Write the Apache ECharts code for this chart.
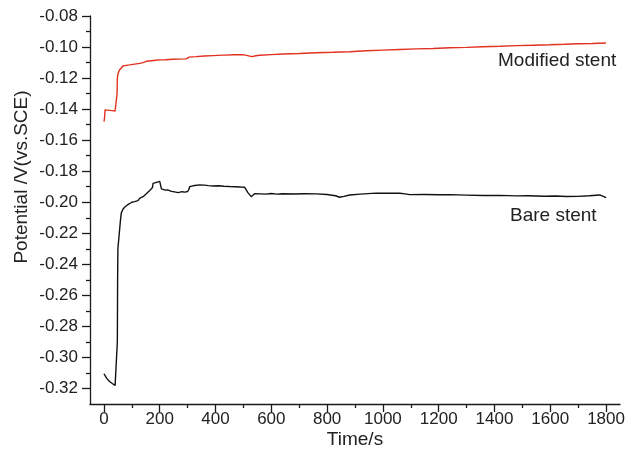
<!DOCTYPE html>
<html>
<head>
<meta charset="utf-8">
<script src="https://cdn.jsdelivr.net/npm/echarts@6/dist/echarts.min.js"></script>
<style>html,body{margin:0;padding:0;background:#fff}#c{width:628px;height:459px}</style>
</head>
<body>
<div id="c"></div>
<script>
// ---- data ----
var timeBare = [0,10,20,30,40,46,48,49,50,53,56,59,62,68,74,80,86,92,100,106,110,116,122,128,134,140,146,152,158,164,170,174,176,182,188,194,200,204,206,212,220,228,235,242,248,253,260,266,271,280,290,300,305,307,315,325,343,360,375,391,410,430,451,470,490,504,510,516,522,528,534,540,546,560,580,600,620,640,680,720,761,800,830,845,860,881,920,960,976,1000,1040,1060,1080,1096,1150,1200,1239,1300,1359,1420,1478,1520,1580,1620,1657,1700,1740,1777,1790,1800];
var valueBare = [-0.3105,-0.3135,-0.3155,-0.3168,-0.3180,-0.3188,-0.2900,-0.2500,-0.2300,-0.2240,-0.2180,-0.2120,-0.2070,-0.2045,-0.2032,-0.2020,-0.2015,-0.2006,-0.2000,-0.1992,-0.1996,-0.1985,-0.1990,-0.1975,-0.1970,-0.1964,-0.1958,-0.1945,-0.1935,-0.1925,-0.1920,-0.1905,-0.1878,-0.1880,-0.1872,-0.1868,-0.1866,-0.1870,-0.1914,-0.1918,-0.1922,-0.1920,-0.1926,-0.1930,-0.1938,-0.1933,-0.1935,-0.1938,-0.1934,-0.1932,-0.1935,-0.1931,-0.1915,-0.1900,-0.1896,-0.1892,-0.1888,-0.1890,-0.1893,-0.1895,-0.1894,-0.1897,-0.1899,-0.1900,-0.1902,-0.1903,-0.1915,-0.1938,-0.1950,-0.1964,-0.1955,-0.1945,-0.1950,-0.1946,-0.1948,-0.1944,-0.1948,-0.1945,-0.1947,-0.1945,-0.1946,-0.1950,-0.1958,-0.1968,-0.1962,-0.1953,-0.1948,-0.1943,-0.1941,-0.1942,-0.1941,-0.1942,-0.1946,-0.1951,-0.1950,-0.1952,-0.1951,-0.1954,-0.1957,-0.1956,-0.1959,-0.1958,-0.1961,-0.1960,-0.1963,-0.1962,-0.1958,-0.1953,-0.1962,-0.1970];
var timeModified = [0,2,4,10,20,30,40,45,47,48,50,55,62,68,80,92,110,128,140,152,170,185,200,220,247,270,295,305,330,360,391,430,470,498,515,530,545,558,600,642,700,760,820,881,940,1000,1060,1120,1180,1240,1300,1358,1420,1480,1540,1598,1650,1700,1750,1800];
var valueModified = [-0.1480,-0.1460,-0.1405,-0.1405,-0.1408,-0.1410,-0.1412,-0.1412,-0.1300,-0.1200,-0.1175,-0.1150,-0.1135,-0.1122,-0.1118,-0.1115,-0.1110,-0.1105,-0.1100,-0.1092,-0.1088,-0.1085,-0.1083,-0.1082,-0.1079,-0.1078,-0.1076,-0.1065,-0.1062,-0.1058,-0.1055,-0.1052,-0.1050,-0.1049,-0.1055,-0.1062,-0.1056,-0.1053,-0.1049,-0.1045,-0.1042,-0.1037,-0.1034,-0.1030,-0.1024,-0.1020,-0.1016,-0.1012,-0.1009,-0.1005,-0.1002,-0.0998,-0.0995,-0.0991,-0.0988,-0.0985,-0.0982,-0.0979,-0.0977,-0.0974];
var xMajorTicks = [0,200,400,600,800,1000,1200,1400,1600,1800];
var xMinorTicks = [100,300,500,700,900,1100,1300,1500,1700];
var yMajorTicks = [-0.32,-0.30,-0.28,-0.26,-0.24,-0.22,-0.20,-0.18,-0.16,-0.14,-0.12,-0.10,-0.08];
var yMinorTicks = [-0.31,-0.29,-0.27,-0.25,-0.23,-0.21,-0.19,-0.17,-0.15,-0.13,-0.11,-0.09];
var seriesNames = ['Bare stent','Modified stent'];
var xName = 'Time/s';
var yName = 'Potential /V(vs.SCE)';

function pairs(t, v){ return t.map(function(x,i){ return [x, v[i]]; }); }

var FONT = '"Liberation Sans", Arial, Helvetica, sans-serif';
var TXT = '#222';
var AX = '#1a1a1a';

var chart = echarts.init(document.getElementById('c'), null, {renderer:'canvas'});
chart.setOption({
  animation: false,
  backgroundColor: '#fff',
  grid: {left: 90, right: 8, top: 16, bottom: 55, outerBoundsMode: 'none'},
  xAxis: [{
    type: 'value', min: -50, max: 1850, position: 'bottom',
    name: xName, nameLocation: 'middle', nameGap: 26, nameMoveOverlap: false,
    nameTextStyle: {fontFamily: FONT, fontSize: 19, color: TXT},
    axisLine: {show: true, onZero: false, lineStyle: {color: AX, width: 1.3}},
    axisTick: {show: true, inside: false, length: 8, customValues: xMajorTicks, lineStyle: {color: AX, width: 1.3}},
    axisLabel: {show: true, margin: 7, customValues: xMajorTicks, fontFamily: FONT, fontSize: 17, color: TXT,
      formatter: function(v){ return String(v); }},
    splitLine: {show: false}
  }, {
    type: 'value', min: -50, max: 1850, position: 'bottom',
    axisLine: {show: false, onZero: false},
    axisTick: {show: true, length: 4, customValues: xMinorTicks, lineStyle: {color: AX, width: 1.3}},
    axisLabel: {show: false},
    splitLine: {show: false}
  }],
  yAxis: [{
    type: 'value', min: -0.33, max: -0.08, position: 'left',
    axisLine: {show: true, onZero: false, lineStyle: {color: AX, width: 1.3}},
    axisTick: {show: true, inside: false, length: 8, customValues: yMajorTicks, lineStyle: {color: AX, width: 1.3}},
    axisLabel: {show: true, margin: 12, customValues: yMajorTicks, fontFamily: FONT, fontSize: 17, color: TXT,
      formatter: function(v){ return v.toFixed(2); }},
    splitLine: {show: false}
  }, {
    type: 'value', min: -0.33, max: -0.08, position: 'left',
    axisLine: {show: false, onZero: false},
    axisTick: {show: true, length: 4, customValues: yMinorTicks, lineStyle: {color: AX, width: 1.3}},
    axisLabel: {show: false},
    splitLine: {show: false}
  }],
  series: [{
    name: seriesNames[0], type: 'line', xAxisIndex: 0, yAxisIndex: 0,
    data: pairs(timeBare, valueBare), showSymbol: false, symbol: 'none',
    lineStyle: {color: '#111', width: 1.4}
  }, {
    name: seriesNames[1], type: 'line', xAxisIndex: 0, yAxisIndex: 0,
    data: pairs(timeModified, valueModified), showSymbol: false, symbol: 'none',
    lineStyle: {color: '#e2311f', width: 1.4}
  }],
  graphic: [{
    type: 'text', x: 22, y: 177, rotation: Math.PI / 2,
    style: {text: yName, font: '19px ' + FONT, fill: TXT, align: 'center', verticalAlign: 'middle', textAlign: 'center', textVerticalAlign: 'middle'}
  }, {
    type: 'text', x: 498, y: 61,
    style: {text: seriesNames[1], font: '19px ' + FONT, fill: TXT, verticalAlign: 'middle', textVerticalAlign: 'middle'}
  }, {
    type: 'text', x: 510, y: 216,
    style: {text: seriesNames[0], font: '19px ' + FONT, fill: TXT, verticalAlign: 'middle', textVerticalAlign: 'middle'}
  }]
});
</script>
</body>
</html>
